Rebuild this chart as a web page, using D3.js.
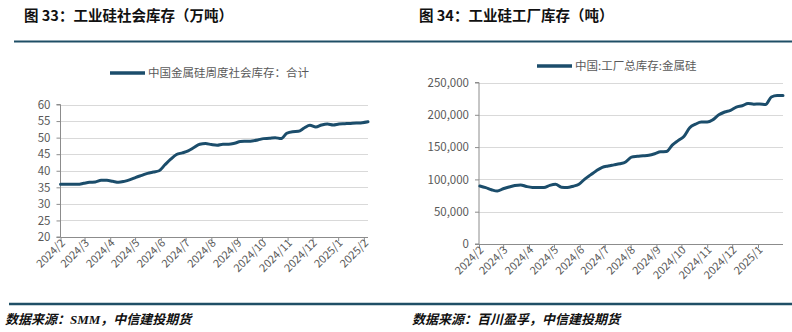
<!DOCTYPE html>
<html>
<head>
<meta charset="utf-8">
<script src="https://cdn.jsdelivr.net/npm/d3@7"></script>
<style>
  html, body { margin: 0; padding: 0; background: #fff; }
  svg { display: block; }
</style>
</head>
<body>
<svg id="chart" width="792" height="332"></svg>
<script>
// Weekly social inventory of industrial silicon (10k tonnes), from 2024-02-01
const socialStart = "2024-02-01";
const socialValues = [
  35.9, 35.9, 35.9, 35.9, 36.2, 36.5, 36.6, 37.1, 37.1, 36.8,
  36.5, 36.8, 37.3, 38.0, 38.6, 39.2, 39.6, 40.0, 41.8, 43.5,
  44.9, 45.4, 46.0, 47.0, 48.0, 48.2, 47.9, 47.7, 48.0, 48.0,
  48.3, 48.8, 48.9, 49.0, 49.3, 49.7, 49.8, 50.0, 49.7, 51.3,
  51.8, 51.9, 52.9, 53.7, 53.2, 53.8, 54.1, 53.8, 54.1, 54.2,
  54.3, 54.4, 54.5, 54.8
];
const socialTicks = [20, 25, 30, 35, 40, 45, 50, 55, 60];

// Weekly factory inventory of metallic silicon (tonnes), from 2024-02-02
const factoryStart = "2024-02-02";
const factoryValues = [
  89700, 87200, 84000, 82000, 85500, 88200, 90500, 91500, 89000, 87600,
  87600, 87600, 90800, 92300, 88000, 87600, 89500, 92500, 100500, 107000,
  113500, 118600, 120800, 122500, 124200, 127000, 134500, 135700, 136500, 137500,
  139800, 142800, 143000, 153000, 160000, 166500, 180000, 185500, 188700, 188700,
  192500, 200000, 204300, 207000, 212000, 214000, 217500, 216500, 216700, 216000,
  227500, 229900, 229900
];
const factoryTicks = [0, 50000, 100000, 150000, 200000, 250000];

const titles = ["图 33：工业硅社会库存（万吨）", "图 34：工业硅工厂库存（吨）"];
const legends = ["中国金属硅周度社会库存：合计", "中国:工厂总库存:金属硅"];
const sources = ["数据来源：SMM，中信建投期货", "数据来源：百川盈孚，中信建投期货"];

const LINE = "#1b4d6b";
const RULE = "#1f4f66";
const GRID = "#d9d9d9";
const AXIS = "#8c8c8c";
const LABEL = "#595959";
const FONT = "'Noto Sans CJK SC', 'Noto Sans', sans-serif";

const parse = d3.timeParse("%Y-%m-%d");
const fmtMonth = d3.timeFormat("%Y/%-m");

function weekly(start, values) {
  const t0 = parse(start);
  return values.map((v, i) => ({ date: d3.timeDay.offset(t0, i * 7), value: v }));
}

const svg = d3.select("#chart");

// Header and footer rules
svg.append("line").attr("x1", 14).attr("x2", 792).attr("y1", 41.5).attr("y2", 41.5)
  .attr("stroke", RULE).attr("stroke-width", 2);
svg.append("line").attr("x1", 9).attr("x2", 792).attr("y1", 304).attr("y2", 304)
  .attr("stroke", RULE).attr("stroke-width", 2.5);

// Titles
[[24, titles[0]], [419, titles[1]]].forEach(([x, t]) => {
  svg.append("text").attr("x", x).attr("y", 21)
    .attr("font-family", FONT).attr("font-size", 14.5).attr("font-weight", "bold")
    .attr("fill", "#111").text(t);
});

// Sources
[[5, sources[0]], [412, sources[1]]].forEach(([x, t]) => {
  svg.append("text").attr("x", x).attr("y", 324)
    .attr("font-family", "'Liberation Serif', 'Noto Sans CJK SC', serif")
    .attr("font-size", 13).attr("font-weight", "bold").attr("font-style", "italic")
    .attr("fill", "#111").text(t);
});

function panel(opt) {
  const data = weekly(opt.start, opt.values);
  const x = d3.scaleTime().domain(opt.xDomain.map(parse)).range([opt.left, opt.right]);
  const y = d3.scaleLinear().domain([opt.yTicks[0], opt.yTicks[opt.yTicks.length - 1]])
    .range([opt.bottom, opt.top]);
  const g = svg.append("g");

  // Horizontal gridlines
  g.append("g").selectAll("line").data(opt.yTicks.slice(1)).join("line")
    .attr("x1", opt.left).attr("x2", opt.gridRight)
    .attr("y1", d => Math.round(y(d)) + 0.5).attr("y2", d => Math.round(y(d)) + 0.5)
    .attr("stroke", GRID).attr("stroke-width", 1);

  // Y axis
  const yAxis = d3.axisLeft(y).tickValues(opt.yTicks).tickSize(4).tickPadding(6)
    .tickFormat(opt.yFormat);
  const ya = g.append("g").attr("transform", `translate(${opt.left},0)`).call(yAxis);
  ya.select(".domain").attr("stroke", AXIS).attr("d", `M-4,${opt.top}H0V${opt.bottom}H-4`);
  ya.selectAll(".tick line").attr("stroke", AXIS);
  ya.selectAll(".tick text").attr("fill", LABEL).attr("font-family", FONT).attr("font-size", 11.5);

  // X axis with monthly ticks
  const months = d3.timeMonth.range(parse(opt.xDomain[0]), d3.timeDay.offset(parse(opt.xDomain[1]), 1));
  const xAxis = d3.axisBottom(x).tickValues(months).tickSize(4).tickSizeOuter(0).tickFormat(fmtMonth);
  const xa = g.append("g").attr("transform", `translate(0,${opt.bottom})`).call(xAxis);
  xa.select(".domain").attr("stroke", AXIS).attr("d", `M${opt.left},0.5H${opt.gridRight}`);
  xa.selectAll(".tick line").attr("stroke", AXIS);
  xa.selectAll(".tick text").attr("fill", LABEL).attr("font-family", FONT).attr("font-size", 11)
    .attr("text-anchor", "end").attr("dy", "0.35em")
    .attr("transform", "translate(2,4) rotate(-45)").attr("x", 0).attr("y", 0);

  // Series line
  const line = d3.line().x(d => x(d.date)).y(d => y(d.value)).curve(d3.curveMonotoneX);
  g.append("path").datum(data).attr("d", line)
    .attr("fill", "none").attr("stroke", LINE).attr("stroke-width", 3)
    .attr("stroke-linejoin", "round").attr("stroke-linecap", "round");

  // Legend
  g.append("line").attr("x1", opt.legendX).attr("x2", opt.legendX + 35)
    .attr("y1", opt.legendY).attr("y2", opt.legendY)
    .attr("stroke", LINE).attr("stroke-width", 3.5);
  g.append("text").attr("x", opt.legendX + 38).attr("y", opt.legendY).attr("dy", "0.35em")
    .attr("font-family", FONT).attr("font-size", 11.5).attr("fill", LABEL).text(opt.legend);
}

panel({
  start: socialStart, values: socialValues, yTicks: socialTicks,
  xDomain: ["2024-02-01", "2025-02-06"],
  left: 60.5, right: 368, gridRight: 368, top: 104.5, bottom: 237,
  yFormat: d3.format("d"), legend: legends[0], legendX: 110, legendY: 73
});

panel({
  start: factoryStart, values: factoryValues, yTicks: factoryTicks,
  xDomain: ["2024-02-01", "2025-01-31"],
  left: 479, right: 783, gridRight: 783, top: 82.5, bottom: 244,
  yFormat: d3.format(","), legend: legends[1], legendX: 537, legendY: 66
});
</script>
</body>
</html>
